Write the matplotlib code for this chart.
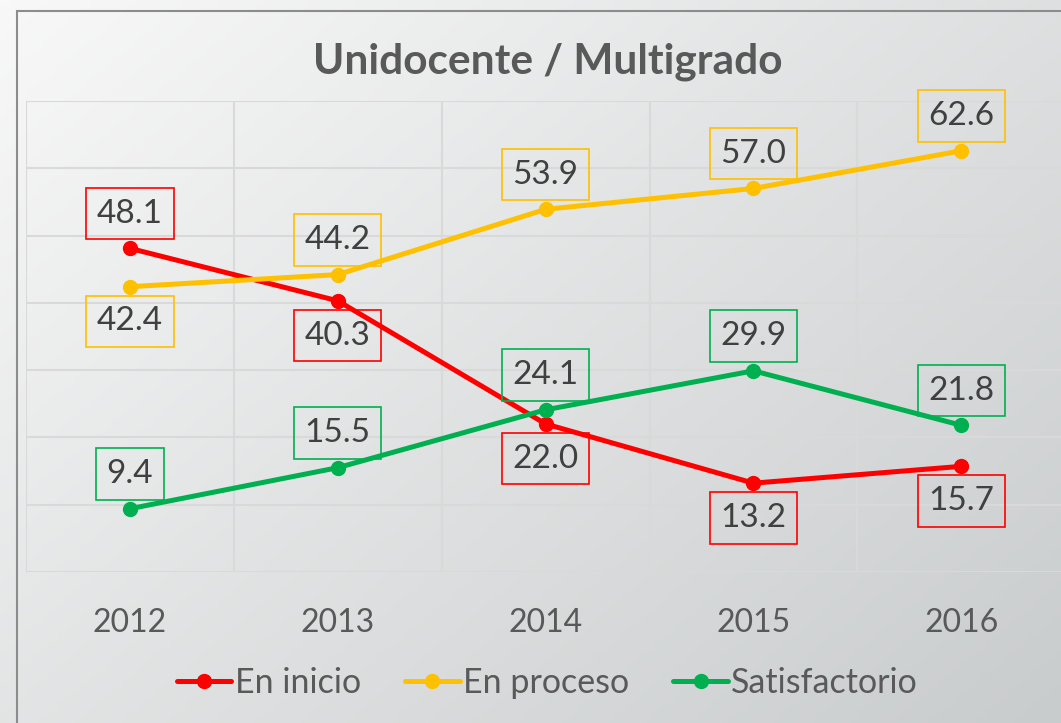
import numpy as np
import matplotlib
matplotlib.use("Agg")
import matplotlib.pyplot as plt
from matplotlib.patches import Rectangle

plt.rcParams['font.family'] = ['Lato', 'DejaVu Sans']

# datos
anios = ["2012", "2013", "2014", "2015", "2016"]
en_inicio = [48.1, 40.3, 22.0, 13.2, 15.7]
en_proceso = [42.4, 44.2, 53.9, 57.0, 62.6]
satisfactorio = [9.4, 15.5, 24.1, 29.9, 21.8]

series = [
    ("En inicio", en_inicio, "#FF0000", ["up", "down", "down", "down", "down"]),
    ("En proceso", en_proceso, "#FFC000", ["down", "up", "up", "up", "up"]),
    ("Satisfactorio", satisfactorio, "#00B050", ["up", "up", "up", "up", "up"]),
]

fig = plt.figure(figsize=(10.61, 7.23), dpi=100)

# fondo con degradado
bg = fig.add_axes([0, 0, 1, 1], zorder=-10)
gx, gy = np.meshgrid(np.linspace(0, 1, 200), np.linspace(0, 1, 200))
grad = 0.55 * gx + 0.45 * gy
bg.imshow(grad, cmap=matplotlib.colors.LinearSegmentedColormap.from_list(
    "g", ["#f8f8f8", "#c9cccd"]), extent=[0, 1, 0, 1], aspect="auto", origin="upper")
bg.set_axis_off()
fig.patches.append(Rectangle((0.016, -0.1), 1.2, 1.0848, transform=fig.transFigure,
                             fill=False, edgecolor="#8c8c8c", linewidth=1.5, zorder=-5))

ax = fig.add_axes([0.0245, 0.2089, 0.9795, 0.6514])
ax.patch.set_alpha(0)
x = np.arange(len(anios))

for nombre, valores, color, lados in series:
    ax.plot(x, valores, color=color, lw=3.6, marker="o", markersize=10,
            solid_capstyle="round", label=nombre, zorder=3)
    for xi, v, lado in zip(x, valores, lados):
        dy = 25 if lado == "up" else -25
        ax.annotate(f"{v:.1f}", (xi, v), xytext=(0, dy), textcoords="offset points",
                    ha="center", va="center", fontsize=24, color="#404040", zorder=4,
                    bbox=dict(boxstyle="square,pad=0.32", fc="none", ec=color, lw=1.2))

ax.set_xlim(-0.5, 4.5)
ax.set_ylim(0, 70)
ax.set_yticks(np.arange(0, 71, 10))
ax.set_xticks(np.arange(-0.5, 4.6, 1), minor=False)
ax.set_xticklabels([])
ax.set_xticks(x, minor=True)
ax.set_xticklabels(anios, minor=True, fontsize=23, color="#595959")
ax.tick_params(axis="x", which="both", length=0, pad=26)
ax.tick_params(axis="y", length=0, labelleft=False)
ax.grid(True, which="major", color="#d9d9d9", lw=1.5)
for s in ax.spines.values():
    s.set_visible(False)

fig.text(0.516, 0.914, "Unidocente / Multigrado", ha="center", va="center",
         fontsize=30.5, fontweight="bold", color="#595959")

leg = fig.legend(loc="center", bbox_to_anchor=(0.516, 0.055), ncol=3, frameon=False,
                 fontsize=24.5, handlelength=1.6, handletextpad=0.1, columnspacing=1.3)
for t in leg.get_texts():
    t.set_color("#595959")

fig.savefig("out.png", dpi=100)
